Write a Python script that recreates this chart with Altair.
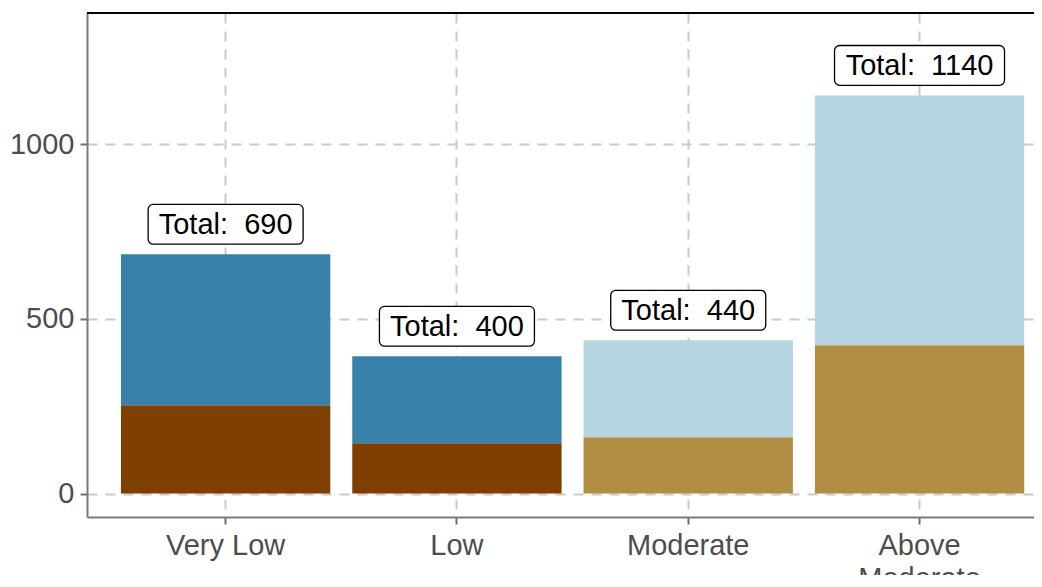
import altair as alt
import pandas as pd

# ---- data ----
categories = ["Very Low", "Low", "Moderate", "Above Moderate"]
lower_values = [253, 144, 161, 425]
upper_values = [432, 249, 278, 715]
label_totals = [690, 400, 440, 1140]
lower_keys = ["dark_lower", "dark_lower", "light_lower", "light_lower"]
upper_keys = ["dark_upper", "dark_upper", "light_upper", "light_upper"]

color_domain = ["dark_lower", "dark_upper", "light_lower", "light_upper"]
color_range = ["#7E3F00", "#3781AA", "#B28E44", "#B6D4E1"]

# ---- tables ----
rows = []
for c, lo, up, lk, uk in zip(categories, lower_values, upper_values, lower_keys, upper_keys):
    rows.append({"category": c, "value": lo, "key": lk, "order": 0})
    rows.append({"category": c, "value": up, "key": uk, "order": 1})
bars_df = pd.DataFrame(rows)

labels_df = pd.DataFrame({
    "category": categories,
    "top": [a + b for a, b in zip(lower_values, upper_values)],
    "label_total": label_totals,
})

FONT = "Liberation Sans"
FS = 29
Y_DOMAIN = [-67, 1376]
W = 947

x_enc = alt.X(
    "category:N",
    sort=categories,
    scale=alt.Scale(paddingInner=0.095, paddingOuter=0.0946, align=0.776),
    axis=alt.Axis(
        title=None,
        labelAngle=0,
        labelExpr="datum.value == 'Above Moderate' ? ['Above', 'Moderate'] : datum.value",
        labelLineHeight=33,
        labelPadding=7,
    ),
)

bars = alt.Chart(bars_df).mark_bar().encode(
    x=x_enc,
    y=alt.Y(
        "value:Q",
        stack="zero",
        scale=alt.Scale(domain=Y_DOMAIN, nice=False, zero=False),
        axis=alt.Axis(title=None, values=[0, 500, 1000], format="d", labelPadding=6),
    ),
    color=alt.Color("key:N", scale=alt.Scale(domain=color_domain, range=color_range), legend=None),
    order=alt.Order("order:Q"),
)

label_base = alt.Chart(labels_df).transform_calculate(
    box_lo="datum.top + 29",
    box_hi="datum.top + 143",
    text_y="datum.top + 86",
    txt="'Total:\u00a0\u00a0' + datum.label_total",
)

box_small = label_base.transform_filter("datum.label_total < 1000").mark_bar(
    width=155, fill="white", stroke="black", strokeWidth=1.3, cornerRadius=5
).encode(
    x=alt.X("category:N", sort=categories),
    y=alt.Y("box_lo:Q"),
    y2="box_hi:Q",
)

box_big = label_base.transform_filter("datum.label_total >= 1000").mark_bar(
    width=170, fill="white", stroke="black", strokeWidth=1.3, cornerRadius=5
).encode(
    x=alt.X("category:N", sort=categories),
    y=alt.Y("box_lo:Q"),
    y2="box_hi:Q",
)

texts = label_base.mark_text(
    font=FONT, fontSize=FS, color="black", baseline="middle", align="center", dy=1
).encode(
    x=alt.X("category:N", sort=categories),
    y=alt.Y("text_y:Q"),
    text="txt:N",
)

top_line = alt.Chart(labels_df).mark_rule(color="black", strokeWidth=1.5).encode(
    x=alt.value(0), x2=alt.value(W), y=alt.value(0)
)

chart = alt.layer(bars, box_small, box_big, texts, top_line).properties(
    width=W,
    height=504,
    autosize=alt.AutoSizeParams(type="none"),
    padding={"left": 79, "top": 5, "right": 0, "bottom": 58},
).configure_view(stroke=None).configure_axis(
    labelFont=FONT,
    labelFontSize=FS,
    labelColor="#4D4D4D",
    domainColor="#7A7A7A",
    domainWidth=2,
    tickColor="#6E6E6E",
    tickWidth=2,
    tickSize=7,
    grid=True,
    gridColor="#CACACA",
    gridWidth=2,
    gridDash=[10, 8],
)

chart.save("out.html", embed_options={"renderer": "svg", "actions": False})
